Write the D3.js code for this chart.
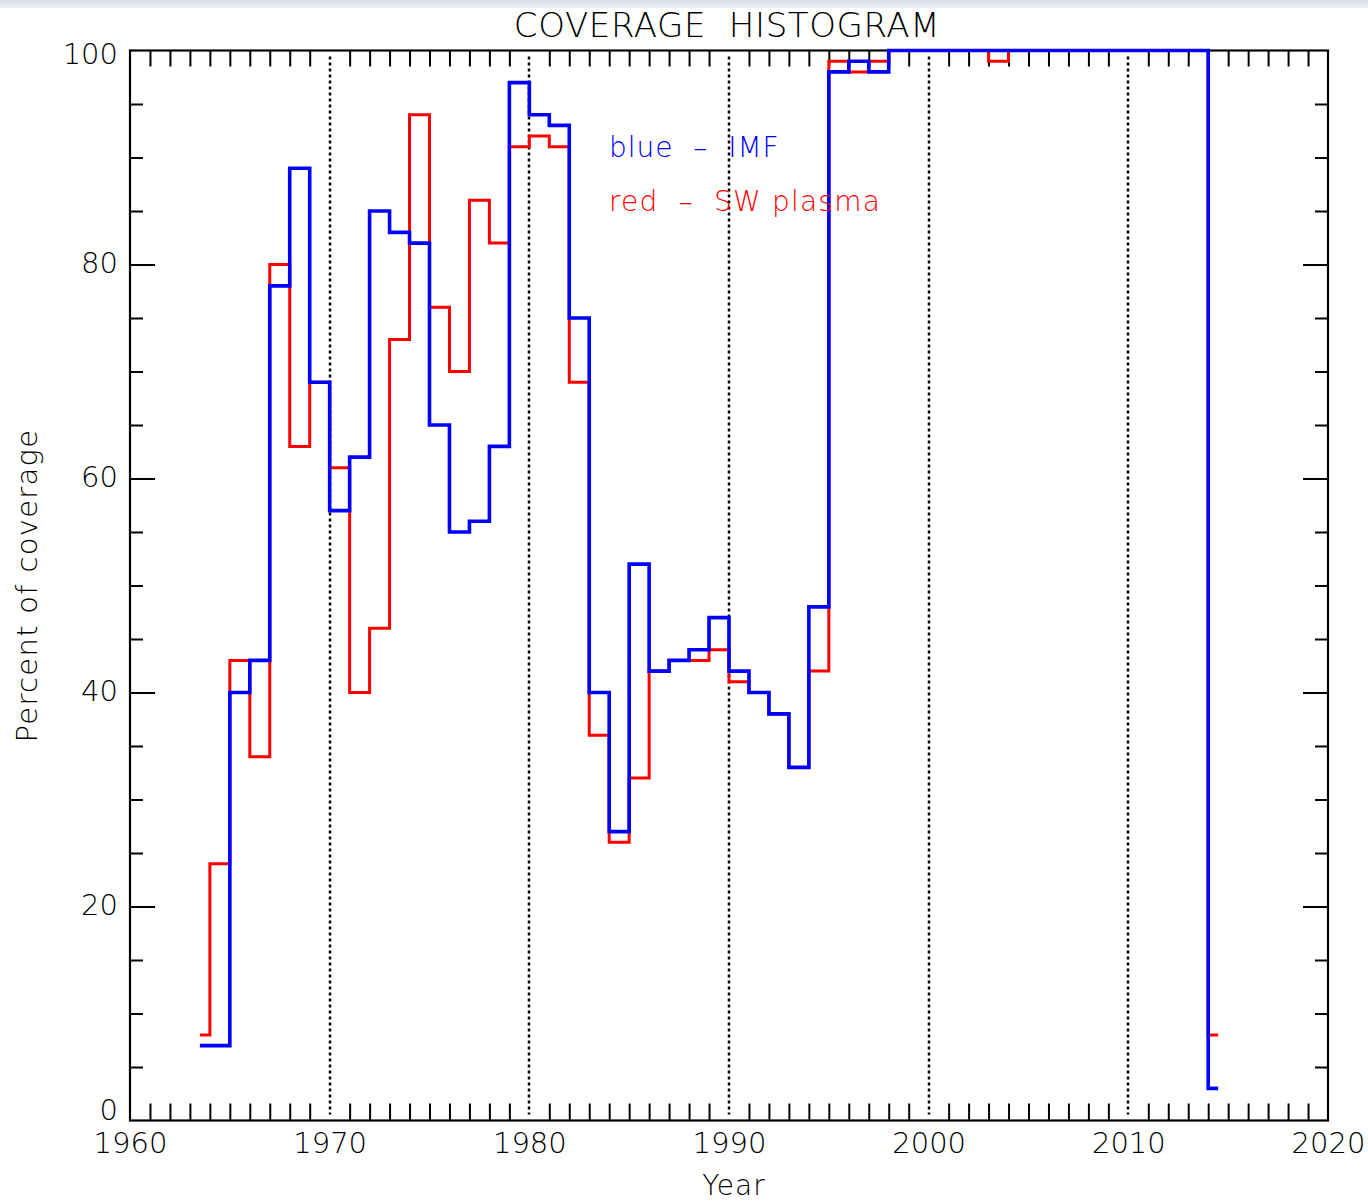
<!DOCTYPE html>
<html>
<head>
<meta charset="utf-8">
<script src="https://cdn.jsdelivr.net/npm/d3@7"></script>
<style>
  body { margin: 0; background: #fff; }
  svg text { font-family: "DejaVu Sans", sans-serif; font-weight: 200; fill: #000; }
</style>
</head>
<body>
<svg id="chart" width="1368" height="1203"></svg>
<script>
const width = 1368
const height = 1203

// one value per year, plotted at year + 0.5 (IDL histogram style)
const years = [1963,1964,1965,1966,1967,1968,1969,1970,1971,1972,1973,1974,1975,1976,1977,1978,1979,1980,1981,1982,1983,1984,1985,1986,1987,1988,1989,1990,1991,1992,1993,1994,1995,1996,1997,1998,1999,2000,2001,2002,2003,2004,2005,2006,2007,2008,2009,2010,2011,2012,2013,2014]

// blue - IMF
const imf = [7,7,40,43,78,89,69,57,62,85,83,82,65,55,56,63,97,94,93,75,40,27,52,42,43,44,47,42,40,38,33,48,98,99,98,100,100,100,100,100,100,100,100,100,100,100,100,100,100,100,100,3]

// red - SW plasma
const plasma = [8,24,43,34,80,63,69,61,40,46,73,94,76,70,86,82,91,92,91,69,36,26,32,42,43,43,44,41,40,38,33,42,99,98,99,100,100,100,100,100,99,100,100,100,100,100,100,100,100,100,100,8]

const xTicks = [1960,1970,1980,1990,2000,2010,2020]
const yTicks = [0,20,40,60,80,100]

const margin = {left: 130, top: 50.5, right: width - 1328, bottom: height - 1120.5}

const svg = d3.select("#chart")

// the light strip at the very top of the screenshot
const grad = svg.append("defs").append("linearGradient")
  .attr("id", "topbar").attr("x1", 0).attr("x2", 0).attr("y1", 0).attr("y2", 1)
grad.append("stop").attr("offset", "0%").attr("stop-color", "#d5dbe6")
grad.append("stop").attr("offset", "100%").attr("stop-color", "#eef1f6")
svg.append("rect").attr("x", 0).attr("y", 0).attr("width", width).attr("height", 8)
  .attr("fill", "url(#topbar)")

const x = d3.scaleLinear().domain([1960, 2020]).range([margin.left, width - margin.right])
const y = d3.scaleLinear().domain([0, 100]).range([height - margin.bottom, margin.top])

const x0 = x.range()[0], x1 = x.range()[1]
const y0 = y.range()[0], y1 = y.range()[1]

// dotted decade lines (snapped to whole pixels so the dots stay dark)
svg.append("g")
  .selectAll("line")
  .data(xTicks.slice(1, -1))
  .enter()
  .append("line")
  .attr("x1", d => Math.round(x(d))).attr("x2", d => Math.round(x(d)))
  .attr("y1", y1 + 6).attr("y2", y0 - 6)
  .style("stroke", "#000")
  .style("stroke-width", 2.5)
  .style("stroke-dasharray", "3,3")

// minor year ticks, bottom and top
const minorYears = d3.range(1961, 2020).filter(d => d % 10 !== 0)

svg.append("g")
  .attr("transform", `translate(0,${y0})`)
  .call(d3.axisTop(x).tickValues(minorYears).tickSize(17).tickFormat(""))
  .call(g => g.select(".domain").remove())
  .selectAll("line").style("stroke-width", 2)

svg.append("g")
  .attr("transform", `translate(0,${y1})`)
  .call(d3.axisBottom(x).tickValues(minorYears).tickSize(16).tickFormat(""))
  .call(g => g.select(".domain").remove())
  .selectAll("line").style("stroke-width", 2)

// x labels
const xAxis = svg.append("g")
  .attr("transform", `translate(0,${y0})`)
  .call(d3.axisBottom(x).tickValues(xTicks).tickSize(0).tickPadding(12).tickFormat(d3.format("d")))
xAxis.select(".domain").remove()
xAxis.selectAll("text").style("font-size", "29px")

// y ticks: minor every 5, major every 20, left and right
const minorPct = d3.range(5, 100, 5).filter(d => d % 20 !== 0)

svg.append("g")
  .attr("transform", `translate(${x0},0)`)
  .call(d3.axisRight(y).tickValues(minorPct).tickSize(13).tickFormat(""))
  .call(g => g.select(".domain").remove())
  .selectAll("line").style("stroke-width", 2)

svg.append("g")
  .attr("transform", `translate(${x1},0)`)
  .call(d3.axisLeft(y).tickValues(minorPct).tickSize(13).tickFormat(""))
  .call(g => g.select(".domain").remove())
  .selectAll("line").style("stroke-width", 2)

svg.append("g")
  .attr("transform", `translate(${x1},0)`)
  .call(d3.axisLeft(y).tickValues(yTicks.slice(1, -1)).tickSize(25).tickFormat(""))
  .call(g => g.select(".domain").remove())
  .selectAll("line").style("stroke-width", 2)

const yAxis = svg.append("g")
  .attr("transform", `translate(${x0},0)`)
  .call(d3.axisRight(y).tickValues(yTicks).tickSize(25).tickFormat(d3.format("d")))
yAxis.select(".domain").remove()
yAxis.selectAll("line").style("stroke-width", 2)
  .style("display", d => (d === 0 || d === 100) ? "none" : null)
yAxis.selectAll("text")
  .attr("x", -12)
  .attr("text-anchor", "end")
  .attr("dy", d => d === 0 ? "-0.02em" : d === 100 ? "0.45em" : "0.28em")
  .style("font-size", "29px")

// frame
svg.append("rect")
  .attr("x", x0).attr("y", y1)
  .attr("width", x1 - x0).attr("height", y0 - y1)
  .style("fill", "none")
  .style("stroke", "#000")
  .style("stroke-width", 2.2)

// step lines, IDL psym=10 style: transitions half way between points
const line = d3.line()
  .curve(d3.curveStep)
  .x(d => x(d.year + 0.5))
  .y(d => y(d.value))

const series = [
  {name: "plasma", color: "#ff0000", width: 3, values: plasma},
  {name: "imf", color: "#0000ff", width: 3.6, values: imf}
]

series.forEach(function(s) {
  svg.append("path")
    .datum(years.map((yr, i) => ({year: yr, value: s.values[i]})))
    .attr("d", line)
    .style("fill", "none")
    .style("stroke", s.color)
    .style("stroke-width", s.width)
    .style("stroke-linejoin", "miter")
})

// legend
svg.append("text")
  .attr("x", 609).attr("y", 157)
  .style("font-size", "28px")
  .style("letter-spacing", "1px")
  .style("fill", "#0000ff")
  .style("white-space", "pre")
  .text("blue  \u2013  IMF")

svg.append("text")
  .attr("x", 609).attr("y", 211)
  .style("font-size", "28px")
  .style("letter-spacing", "1.2px")
  .style("fill", "#ff0000")
  .style("white-space", "pre")
  .text("red  \u2013  SW plasma")

// titles
svg.append("text")
  .attr("x", (x0 + x1) / 2 - 2).attr("y", 37)
  .attr("text-anchor", "middle")
  .style("font-size", "34px")
  .style("letter-spacing", "0.6px")
  .style("white-space", "pre")
  .text("COVERAGE  HISTOGRAM")

svg.append("text")
  .attr("x", (x0 + x1) / 2 + 5).attr("y", 1195)
  .attr("text-anchor", "middle")
  .style("font-size", "28px")
  .style("letter-spacing", "1px")
  .text("Year")

svg.append("text")
  .attr("transform", `translate(37,${(y0 + y1) / 2}) rotate(-90)`)
  .attr("text-anchor", "middle")
  .style("font-size", "29px")
  .style("letter-spacing", "1.3px")
  .text("Percent of coverage")
</script>
</body>
</html>
